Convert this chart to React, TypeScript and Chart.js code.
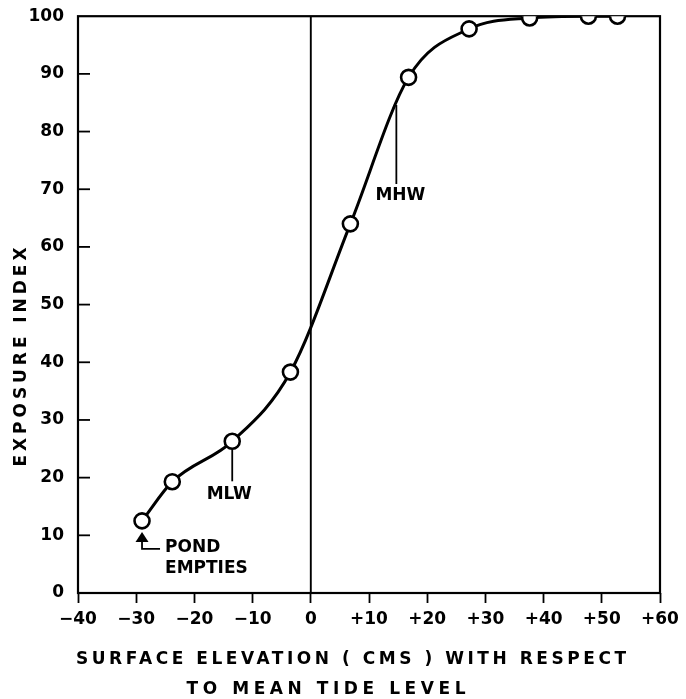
import React, { useEffect, useRef } from "react";
import { Chart, registerables } from "chart.js";

Chart.register(...registerables);

// Surface elevation (cm) relative to mean tide level
const elevation = [-29, -23.8, -13.5, -3.5, 6.8, 16.8, 27.2, 37.6, 47.7, 52.7];
// Exposure index
const exposure = [12.5, 19.3, 26.3, 38.3, 64.0, 89.4, 97.8, 99.7, 100, 100];

const xMin = -40;
const xMax = 60;
const yMin = 0;
const yMax = 100;
const tickStep = 10;

const xTitleLines = ["SURFACE ELEVATION ( CMS ) WITH RESPECT", "TO MEAN TIDE LEVEL"];
const yTitle = "EXPOSURE INDEX";
const mlwLabel = "MLW";
const mhwLabel = "MHW";
const mhwElevation = 14.7;
const mhwCurveValue = 84.6;
const pondLabel = ["POND", "EMPTIES"];

const FONT = "'DejaVu Sans', sans-serif";

function spacedText(ctx: CanvasRenderingContext2D, text: string, cx: number, cy: number, width: number) {
  (ctx as any).letterSpacing = "0px";
  const w0 = ctx.measureText(text).width;
  const sp = (width - w0) / Math.max(1, text.length - 1);
  (ctx as any).letterSpacing = sp + "px";
  ctx.textAlign = "left";
  ctx.textBaseline = "middle";
  ctx.fillText(text, cx - width / 2, cy);
  (ctx as any).letterSpacing = "0px";
}

const decorPlugin = {
  id: "decor",
  beforeDatasetsDraw(chart: any) {
    const { ctx, chartArea: a, scales } = chart;
    const xs = scales.x;
    const ys = scales.y;
    ctx.save();
    ctx.strokeStyle = "#000";
    ctx.lineWidth = 2.2;
    ctx.strokeRect(a.left, a.top, a.right - a.left, a.bottom - a.top);
    // zero line
    const x0 = xs.getPixelForValue(0);
    ctx.lineWidth = 1.9;
    ctx.beginPath();
    ctx.moveTo(x0, a.top);
    ctx.lineTo(x0, a.bottom);
    ctx.stroke();
    // inward y ticks
    ctx.lineWidth = 1.8;
    for (let v = yMin + tickStep; v < yMax; v += tickStep) {
      const y = ys.getPixelForValue(v);
      ctx.beginPath();
      ctx.moveTo(a.left, y);
      ctx.lineTo(a.left + 12, y);
      ctx.stroke();
    }
    ctx.restore();
  },
  afterDraw(chart: any) {
    const { ctx, scales } = chart;
    const xs = scales.x;
    const ys = scales.y;
    ctx.save();
    ctx.fillStyle = "#000";
    ctx.strokeStyle = "#000";
    // x title
    ctx.font = `bold 17px ${FONT}`;
    spacedText(ctx, xTitleLines[0], 351, 660, 550);
    spacedText(ctx, xTitleLines[1], 326, 690, 279);
    // y title
    ctx.save();
    ctx.translate(22, 357);
    ctx.rotate(-Math.PI / 2);
    spacedText(ctx, yTitle, 0, 0, 219);
    ctx.restore();

    ctx.font = `bold 17px ${FONT}`;
    ctx.textAlign = "center";
    ctx.textBaseline = "middle";
    ctx.lineWidth = 1.8;
    // MLW
    const mx = xs.getPixelForValue(elevation[2]);
    const my = ys.getPixelForValue(exposure[2]);
    ctx.beginPath();
    ctx.moveTo(mx, my + 8);
    ctx.lineTo(mx, my + 40);
    ctx.stroke();
    ctx.fillText(mlwLabel, mx - 3, my + 53);
    // MHW
    const hx = xs.getPixelForValue(mhwElevation);
    const hy = ys.getPixelForValue(mhwCurveValue);
    ctx.beginPath();
    ctx.moveTo(hx, hy);
    ctx.lineTo(hx, hy + 79);
    ctx.stroke();
    ctx.fillText(mhwLabel, hx + 4, hy + 91);
    // Pond empties arrow
    const px = xs.getPixelForValue(elevation[0]);
    const py = ys.getPixelForValue(exposure[0]);
    ctx.beginPath();
    ctx.moveTo(px, py + 11);
    ctx.lineTo(px - 6.5, py + 21);
    ctx.lineTo(px + 6.5, py + 21);
    ctx.closePath();
    ctx.fill();
    ctx.beginPath();
    ctx.moveTo(px, py + 21);
    ctx.lineTo(px, py + 28);
    ctx.lineTo(px + 18, py + 28);
    ctx.stroke();
    ctx.textAlign = "left";
    ctx.fillText(pondLabel[0], px + 23, py + 27);
    ctx.fillText(pondLabel[1], px + 23, py + 48);
    ctx.restore();
  },
};

export default function App() {
  const ref = useRef<HTMLCanvasElement>(null);
  useEffect(() => {
    const canvas = ref.current!;
    const pts = elevation.map((x, i) => ({ x, y: exposure[i] }));
    const chart = new Chart(canvas, {
      type: "line",
      data: {
        datasets: [
          {
            data: pts,
            borderColor: "#000",
            borderWidth: 3,
            cubicInterpolationMode: "monotone",
            pointRadius: 7.5,
            pointBorderWidth: 2.6,
            pointBackgroundColor: "#fff",
            pointBorderColor: "#000",
            fill: false,
          },
          {
            data: pts,
            showLine: false,
            pointRadius: 1.4,
            pointBorderWidth: 0,
            pointBackgroundColor: "#000",
          },
        ],
      },
      options: {
        responsive: false,
        animation: false,
        layout: { padding: { top: 15, right: 26, left: 0, bottom: 0 } },
        plugins: { legend: { display: false }, tooltip: { enabled: false } },
        scales: {
          x: {
            type: "linear",
            min: xMin,
            max: xMax,
            afterFit: (s: any) => {
              s.height = 106;
            },
            border: { display: false },
            grid: {
              drawOnChartArea: false,
              drawTicks: true,
              tickLength: 10,
              tickColor: "#000",
              tickWidth: 1.8,
            },
            ticks: {
              stepSize: tickStep,
              color: "#000",
              font: { family: FONT, size: 17, weight: "bold" },
              padding: 6,
              maxRotation: 0,
              callback: (v: any) => (v > 0 ? "+" + v : v < 0 ? "\u2212" + Math.abs(v) : "0"),
            },
          },
          y: {
            min: yMin,
            max: yMax,
            afterFit: (s: any) => {
              s.width = 78;
            },
            border: { display: false },
            grid: { display: false },
            ticks: {
              stepSize: tickStep,
              color: "#000",
              font: { family: FONT, size: 17, weight: "bold" },
              padding: 6,
            },
          },
        },
      },
      plugins: [decorPlugin],
    } as any);
    return () => chart.destroy();
  }, []);
  return (
    <div style={{ position: "absolute", left: 0, top: 0, width: 686, height: 699, background: "#fff" }}>
      <canvas ref={ref} width={686} height={699} />
    </div>
  );
}
